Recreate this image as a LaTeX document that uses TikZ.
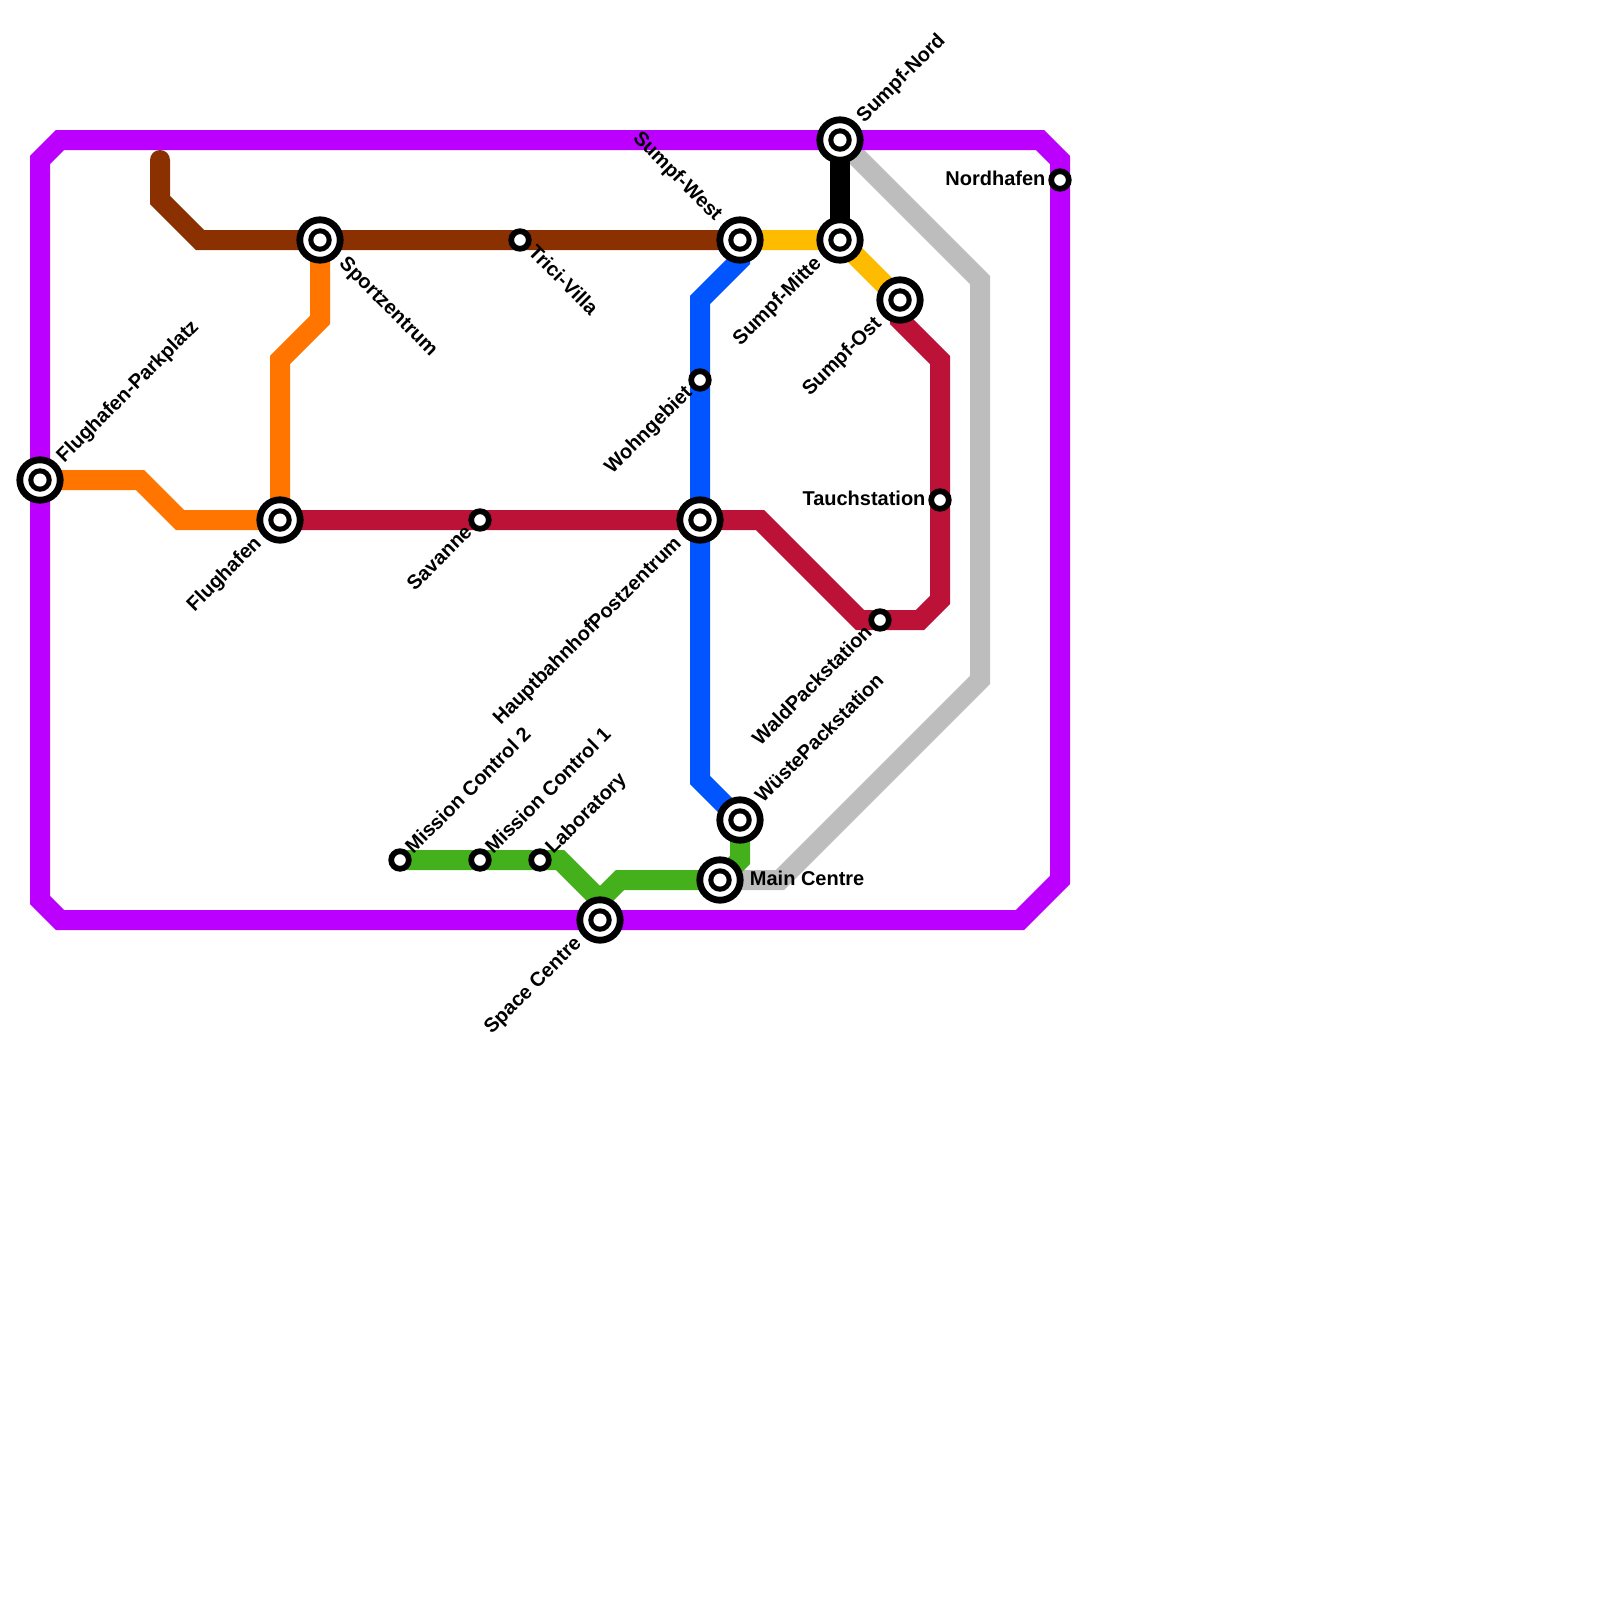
\documentclass[tikz,border=0pt]{standalone}
\usepackage{fontspec}
\setmainfont{Liberation Sans}
\usetikzlibrary{backgrounds}
\definecolor{purpleline}{HTML}{BB00FF}
\definecolor{orangeline}{HTML}{FF7500}
\definecolor{brownline}{HTML}{8B3000}
\definecolor{redline}{HTML}{BC1238}
\definecolor{blueline}{HTML}{0055FF}
\definecolor{greenline}{HTML}{44B01C}
\definecolor{yellowline}{HTML}{FFBB00}
\definecolor{grayline}{HTML}{BDBDBD}

\begin{document}
\begin{tikzpicture}[
  x=0.25cm, y=-0.25cm,
  metro/.style={line width=2.5mm, line join=miter},
  small/.style={circle, draw=black, fill=white, line width=0.72mm, minimum size=2.2mm, inner sep=0pt},
  big/.style={circle, draw=black, fill=white, line width=0.85mm, minimum size=5.05mm, inner sep=0pt,
    path picture={\fill[black] (path picture bounding box.center) circle (1.47mm);
      \fill[white] (path picture bounding box.center) circle (0.82mm);}},
  lbl/.style={font=\bfseries\fontsize{7.11pt}{8pt}\selectfont, inner sep=0pt, text height=1.79mm, text depth=0pt},
  up/.style={lbl, rotate=45, anchor=west},
  back/.style={lbl, rotate=45, anchor=east},
  down/.style={lbl, rotate=-45, anchor=west},
  toward/.style={lbl, rotate=-45, anchor=east}
]

\node[big] (parkplatz) at (2,24) {};
\node[big] (flughafen) at (14,26) {};
\node[big] (sport) at (16,12) {};
\node[small] (trici) at (26,12) {};
\node[big] (west) at (37,12) {};
\node[big] (mitte) at (42,12) {};
\node[big] (nord) at (42,7) {};
\node[big] (ost) at (45,15) {};
\node[small] (nordhafen) at (53,9) {};
\node[small] (wohngebiet) at (35,19) {};
\node[big] (hbf) at (35,26) {};
\node[small] (savanne) at (24,26) {};
\node[small] (tauch) at (47,25) {};
\node[small] (wald) at (44,31) {};
\node[big] (wueste) at (37,41) {};
\node[big] (main) at (36,44) {};
\node[big] (space) at (30,46) {};
\node[small] (control2) at (20,43) {};
\node[small] (control1) at (24,43) {};
\node[small] (lab) at (27,43) {};

\node[up] (parkplatzlbl) at (2.95,22.92) {Flughafen-Parkplatz};
\node[back] (flughafenlbl) at (12.88,26.95) {Flughafen};
\node[down] (sportlbl) at (17.15,12.97) {Sportzentrum};
\node[down] (tricilbl) at (26.6,12.4) {Trici-Villa};
\node[toward] (westlbl) at (36,10.85) {Sumpf-West};
\node[back] (mittelbl) at (40.88,12.95) {Sumpf-Mitte};
\node[up] (nordlbl) at (42.95,5.92) {Sumpf-Nord};
\node[back] (ostlbl) at (43.88,15.95) {Sumpf-Ost};
\node[lbl, anchor=east] (nordhafenlbl) at (52.3,8.9) {Nordhafen};
\node[back] (wohnlbl) at (34.42,19.42) {Wohngebiet};
\node[back] (hbflbl) at (33.88,26.95) {HauptbahnhofPostzentrum};
\node[back] (savannelbl) at (23.42,26.4) {Savanne};
\node[lbl, anchor=east] (tauchlbl) at (46.3,24.9) {Tauchstation};
\node[back] (waldlbl) at (43.42,31.4) {WaldPackstation};
\node[up] (wuestelbl) at (37.88,39.95) {WüstePackstation};
\node[lbl, anchor=west] (mainlbl) at (37.47,43.9) {Main Centre};
\node[back] (spacelbl) at (28.88,46.95) {Space Centre};
\node[up] (control2lbl) at (20.4,42.5) {Mission Control 2};
\node[up] (control1lbl) at (24.4,42.5) {Mission Control 1};
\node[up] (lablbl) at (27.4,42.5) {Laboratory};

\begin{scope}[on background layer]
\draw[metro, grayline] (nord.center) -- (49,14) -- (49,34) -- (39,44) -- (main.center);
\draw[metro, purpleline] (2,8) -- (3,7) -- (52,7) -- (53,8) -- (53,44) -- (51,46) -- (3,46) -- (2,45) -- cycle;
\draw[metro, orangeline] (parkplatz.center) -- (7,24) -- (9,26) -- (flughafen.center) -- (14,18) -- (16,16) -- (sport.center);
\draw[metro, brownline, line cap=round] (8,8) -- (8,10) -- (10,12) -- (sport.center) -- (west.center);
\draw[metro, redline] (flughafen.center) -- (38,26) -- (43,31) -- (46,31) -- (47,30) -- (47,18) -- (45,16) -- (ost.center);
\draw[metro, blueline] (west.center) -- (37,13) -- (35,15) -- (35,39) -- (wueste.center);
\draw[metro, yellowline] (west.center) -- (mitte.center) -- (ost.center);
\draw[metro, black] (nord.center) -- (mitte.center);
\draw[metro, greenline] (control2.center) -- (28,43) -- (30,45) -- (space.center);
\draw[metro, greenline] (wueste.center) -- (37,43) -- (main.center) -- (31,44) -- (30,45);
\end{scope}

\useasboundingbox (0,0) rectangle (80,80);
\end{tikzpicture}
\end{document}
